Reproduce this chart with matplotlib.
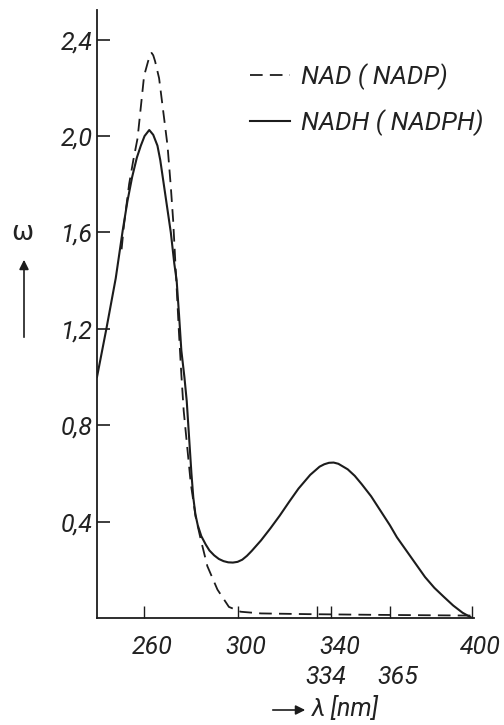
import matplotlib
matplotlib.use("Agg")
import matplotlib.pyplot as plt
import matplotlib.transforms as mtransforms
from matplotlib.patches import FancyArrowPatch

# ---- data ----
nadh_wl = [240, 244, 248, 251, 253, 255, 257, 258.7, 260.3, 262.3, 264, 265.8, 267, 268.5,
           270, 271.5, 273, 274, 275, 276, 277.3, 278.3, 279.5, 280.3, 281.1, 282, 283,
           284.5, 286.4, 288, 290, 292, 294, 296, 298, 300, 302, 304, 306, 310, 314, 318,
           322, 326, 331, 335, 337, 339, 341, 343, 347, 350, 353, 357, 361, 365, 368, 372,
           376, 380, 384, 388, 392, 396, 399.5]
nadh_eps = [1.00, 1.20, 1.41, 1.61, 1.73, 1.83, 1.91, 1.96, 2.00, 2.025, 2.005, 1.96, 1.90,
            1.80, 1.70, 1.60, 1.47, 1.40, 1.26, 1.11, 1.00, 0.90, 0.72, 0.60, 0.50, 0.43,
            0.385, 0.34, 0.305, 0.28, 0.26, 0.245, 0.236, 0.231, 0.23, 0.233, 0.242, 0.258,
            0.278, 0.322, 0.372, 0.425, 0.482, 0.537, 0.594, 0.628, 0.638, 0.644, 0.645,
            0.64, 0.617, 0.59, 0.555, 0.505, 0.445, 0.385, 0.335, 0.28, 0.225, 0.17, 0.125,
            0.088, 0.052, 0.022, 0.003]

nad_wl = [250.5, 251.5, 253.7, 255.5, 257.3, 260.1, 261.8, 262.6, 263.3, 264, 264.8, 266.5,
          268.3, 270.1, 271.5, 272.5, 274, 275, 276, 277, 278.6, 280, 282.1, 284.3, 287.1,
          291.4, 296.3, 301.3, 310, 330, 360, 400]
nad_eps = [1.53, 1.63, 1.80, 1.90, 1.99, 2.25, 2.31, 2.335, 2.345, 2.335, 2.31, 2.24,
           2.10, 1.96, 1.79, 1.65, 1.37, 1.18, 1.01, 0.86, 0.70, 0.56, 0.42, 0.325, 0.215,
           0.118, 0.046, 0.026, 0.019, 0.016, 0.013, 0.01]

x_major = [260, 300, 340, 400]
x_major_labels = ["260", "300", "340", "400"]
x_minor = [334, 365]
x_minor_labels = ["334", "365"]
y_ticks = [0.4, 0.8, 1.2, 1.6, 2.0, 2.4]
y_tick_labels = ["0,4", "0,8", "1,2", "1,6", "2,0", "2,4"]
series_labels = ["NAD ( NADP)", "NADH ( NADPH)"]

# ---- styling ----
ink = "#1c1c1c"
text_ink = "#222222"
fam = ["Roboto", "DejaVu Sans"]
font = dict(family=fam, style="italic", weight="normal")
plt.rcParams["font.family"] = fam

fig = plt.figure(figsize=(5.04, 7.25), dpi=100, facecolor="white")
ax = fig.add_axes([97 / 504, 107 / 725, 377 / 504, 608 / 725])
ax.set_facecolor("white")

ax.plot(nad_wl, nad_eps, color=ink, lw=1.3, dashes=(7, 4), label=series_labels[0])
ax.plot(nadh_wl, nadh_eps, color=ink, lw=1.5, label=series_labels[1])

ax.set_xlim(240, 400.9)
ax.set_ylim(0, 2.523)

for s in ["top", "right"]:
    ax.spines[s].set_visible(False)
for s in ["left", "bottom"]:
    ax.spines[s].set_color(ink)
    ax.spines[s].set_linewidth(1.3)

ax.set_yticks(y_ticks, labels=y_tick_labels)
ax.set_xticks(x_major, labels=x_major_labels)
ax.set_xticks(x_minor, labels=x_minor_labels, minor=True)
ax.tick_params(axis="y", direction="in", length=9, width=1.2, color=ink, pad=3)
ax.tick_params(axis="x", which="major", direction="in", length=9, width=1.0, color=ink, pad=12)
ax.tick_params(axis="x", which="minor", direction="in", length=9, width=1.0, color=ink, pad=34)

for lab in ax.get_yticklabels():
    lab.set_fontsize(18)
    lab.set(**font)
    lab.set_color(text_ink)
off = mtransforms.ScaledTranslation(6 / 72, 0, fig.dpi_scale_trans)
for lab in ax.get_xticklabels() + ax.get_xticklabels(minor=True):
    lab.set_fontsize(18)
    lab.set(**font)
    lab.set_color(text_ink)
    lab.set_transform(lab.get_transform() + off)

leg = ax.legend(loc="upper left", bbox_to_anchor=(0.406, 0.913), frameon=False,
                borderpad=0, borderaxespad=0, handlelength=1.55, handletextpad=0.45,
                labelspacing=0.75,
                prop=dict(family=fam, style="italic", weight="normal", size=18.5))
for t in leg.get_texts():
    t.set_color(text_ink)

# axis labels with arrows
fig.text(22 / 504, 1 - 233 / 725, "ω", fontsize=19, color=text_ink, ha="center", va="center",
         family=["DejaVu Sans"])
fig.add_artist(FancyArrowPatch((24 / 504, 1 - 340 / 725), (24 / 504, 1 - 257 / 725),
               transform=fig.transFigure, arrowstyle="-|>", mutation_scale=14, lw=1.2, color=ink))
fig.add_artist(FancyArrowPatch((270 / 504, 1 - 710 / 725), (308 / 504, 1 - 710 / 725),
               transform=fig.transFigure, arrowstyle="-|>", mutation_scale=14, lw=1.2, color=ink))
fig.text(312 / 504, 1 - 709 / 725, "λ [nm]", fontsize=18, color=text_ink, ha="left", va="center", **font)

fig.savefig("out.png", dpi=100, facecolor="white")
